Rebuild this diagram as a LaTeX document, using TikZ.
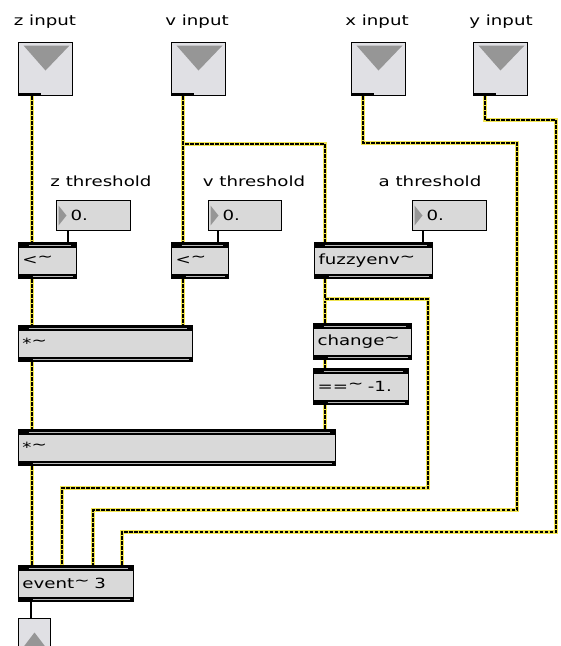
\documentclass[tikz,border=0pt]{standalone}
\usepackage{fontspec}
\setmainfont{DejaVu Sans}[FakeStretch=1.3]
\usepackage{xcolor}
\definecolor{boxgray}{RGB}{217,217,217}
\definecolor{inletgray}{RGB}{224,224,228}
\definecolor{trigray}{RGB}{150,150,150}
\definecolor{cordyellow}{RGB}{240,228,80}
\usepackage{tikz}
\newcommand{\patchfont}{\fontsize{14}{16}\selectfont}
\newcommand{\sigtilde}{\raisebox{3pt}{\textasciitilde}}

\tikzset{
  lbl/.style={inner sep=0pt},
  inletbox/.style={draw, line width=1pt, fill=inletgray, anchor=north west,
    minimum width=54pt, minimum height=53pt, inner sep=0pt,
    path picture={
      \fill[trigray] ([xshift=5pt,yshift=-3pt]path picture bounding box.north west)
        -- ([xshift=-3pt,yshift=-3pt]path picture bounding box.north east)
        -- ([yshift=-28pt]path picture bounding box.north) -- cycle;
      \fill[black] (path picture bounding box.south west)
        rectangle ([xshift=22pt,yshift=3pt]path picture bounding box.south west);
    }},
  outletbox/.style={draw, line width=1pt, fill=inletgray, anchor=north west,
    minimum width=32pt, minimum height=34pt, inner sep=0pt,
    path picture={
      \fill[trigray] ([xshift=3pt,yshift=3pt]path picture bounding box.south west)
        -- ([xshift=-3pt,yshift=3pt]path picture bounding box.south east)
        -- ([yshift=-14pt]path picture bounding box.north) -- cycle;
    }},
  objbox/.style={draw, line width=1pt, fill=boxgray, anchor=north west,
    minimum height=36pt, inner xsep=4pt, text width=#1, align=left,
    path picture={
      \fill[black] (path picture bounding box.north west)
        rectangle ([yshift=-5pt]path picture bounding box.north east);
      \fill[black] (path picture bounding box.south west)
        rectangle ([yshift=5pt]path picture bounding box.south east);
      \draw[gray!55, line width=0.8pt] ([xshift=10pt,yshift=-2.5pt]path picture bounding box.north west)
        -- ([xshift=-6pt,yshift=-2.5pt]path picture bounding box.north east);
      \draw[gray!55, line width=0.8pt] ([xshift=14pt,yshift=2.5pt]path picture bounding box.south west)
        -- ([xshift=-4pt,yshift=2.5pt]path picture bounding box.south east);
    }},
  numbox/.style={draw, line width=1pt, fill=boxgray, anchor=north west,
    minimum width=#1, minimum height=30pt, inner xsep=0pt, text width=#1, align=left,
    path picture={
      \fill[trigray] ([xshift=2pt,yshift=-5pt]path picture bounding box.north west)
        -- ([xshift=10pt,yshift=-15pt]path picture bounding box.north west)
        -- ([xshift=2pt,yshift=-25pt]path picture bounding box.north west) -- cycle;
    }},
  sigcord/.style={line width=2.6pt, black, dash pattern=on 3.5pt off 1.5pt, line join=miter,
    preaction={draw, cordyellow, line width=4.2pt, solid}},
  ctlcord/.style={line width=1.2pt, black}
}

\begin{document}
\begin{tikzpicture}[x=1pt, y=-1pt, font=\patchfont]
  \useasboundingbox[fill=white] (0,0) rectangle (561,646);

  % Inlets
  \node[lbl] (zlbl) at (45,22) {z input};
  \node[lbl] (vlbl) at (197,22) {v input};
  \node[lbl] (xlbl) at (377,22) {x input};
  \node[lbl] (ylbl) at (501,22) {y input};
  \node[inletbox] (zin) at (18,42) {};
  \node[inletbox] (vin) at (171,42) {};
  \node[inletbox] (xin) at (351,42) {};
  \node[inletbox] (yin) at (473,42) {};

  % Thresholds
  \node[lbl] (zthr) at (101,181) {z threshold};
  \node[lbl] (vthr) at (254,181) {v threshold};
  \node[lbl] (athr) at (430,181) {a threshold};
  \node[numbox=74pt] (nz) at (56,200) {\hspace*{14pt}0.};
  \node[numbox=73pt] (nv) at (208,200) {\hspace*{14pt}0.};
  \node[numbox=74pt] (na) at (412,200) {\hspace*{14pt}0.};

  % Objects
  \node[objbox=50pt] (ltz) at (18,242) {<\sigtilde};
  \node[objbox=49pt] (ltv) at (171,242) {<\sigtilde};
  \node[objbox=110pt] (fuzz) at (314,242) {fuzzyenv\sigtilde};
  \node[objbox=166pt] (mulA) at (18,325) {*\sigtilde};
  \node[objbox=90pt] (chg) at (313,323) {change\sigtilde};
  \node[objbox=87pt] (eqm) at (313,368) {==\sigtilde{} -1.};
  \node[objbox=309pt] (mulB) at (18,429) {*\sigtilde};
  \node[objbox=107pt] (evt) at (18,565) {event\sigtilde{} 3};
  \node[outletbox] (outb) at (18,618) {};

  % Signal cords
  \draw[sigcord] ([xshift=14pt]zin.south west) -- ([xshift=14pt]ltz.north west);
  \draw[sigcord] ([xshift=12pt]vin.south west) -- ([xshift=12pt]ltv.north west);
  \draw[sigcord] ([xshift=12pt]vin.south west) -- ++(0,48) -| ([xshift=11pt]fuzz.north west);
  \draw[sigcord] ([xshift=14pt]ltz.south west) -- ([xshift=14pt]mulA.north west);
  \draw[sigcord] ([xshift=12pt]ltv.south west) -- ([xshift=165pt]mulA.north west);
  \draw[sigcord] ([xshift=14pt]mulA.south west) -- ([xshift=14pt]mulB.north west);
  \draw[sigcord] ([xshift=14pt]mulB.south west) -- ([xshift=14pt]evt.north west);
  \draw[sigcord] ([xshift=11pt]fuzz.south west) -- ([xshift=12pt]chg.north west);
  \draw[sigcord] ([xshift=12pt]chg.south west) -- ([xshift=12pt]eqm.north west);
  \draw[sigcord] ([xshift=12pt]eqm.south west) -- ([xshift=307pt]mulB.north west);
  \draw[sigcord] ([xshift=11pt]fuzz.south west) -- ++(0,20) -- ++(103,0) -- ++(0,189)
    -| ([xshift=44pt]evt.north west);
  \draw[sigcord] ([xshift=12pt]xin.south west) -- ++(0,47) -- ++(154,0) -- ++(0,367)
    -| ([xshift=75pt]evt.north west);
  \draw[sigcord] ([xshift=12pt]yin.south west) -- ++(0,24) -- ++(71,0) -- ++(0,412)
    -| ([xshift=104pt]evt.north west);

  % Control cords
  \draw[ctlcord] ([xshift=12pt]nz.south west) -- ([xshift=50pt]ltz.north west);
  \draw[ctlcord] ([xshift=10pt]nv.south west) -- ([xshift=47pt]ltv.north west);
  \draw[ctlcord] ([xshift=11pt]na.south west) -- ([xshift=109pt]fuzz.north west);
  \draw[ctlcord] ([xshift=13pt]evt.south west) -- ([xshift=13pt]outb.north west);
\end{tikzpicture}
\end{document}
